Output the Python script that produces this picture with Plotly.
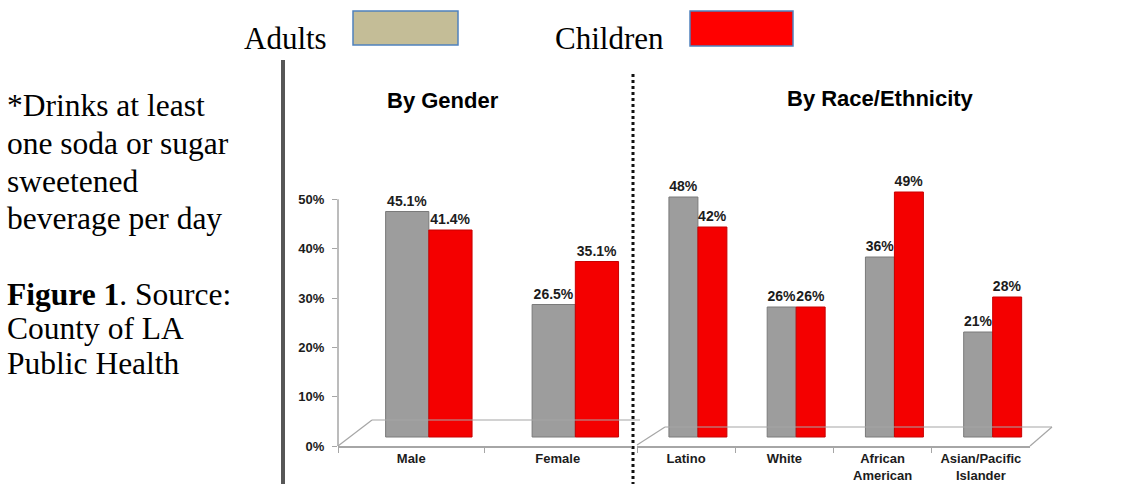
import plotly.graph_objects as go

W, H = 1146, 484

# ---------------- data ----------------
gender_cats = ["Male", "Female"]
gender_adults = [45.1, 26.5]
gender_children = [41.4, 35.1]

race_cats = ["Latino", "White", "African<br>American", "Asian/Pacific<br>Islander"]
race_adults = [48, 26, 36, 21]
race_children = [42, 26, 49, 28]

y_ticks = [0, 10, 20, 30, 40, 50]
y_tick_text = ["0%", "10%", "20%", "30%", "40%", "50%"]

note_lines = ["*Drinks at least", "one soda or sugar", "sweetened", "beverage per day"]
source_lines = ["<b>Figure 1</b>. Source:", "County of LA", "Public Health"]

# ---------------- style ----------------
GRAY = "#9d9d9d"
GRAY_EDGE = "#7a7a7a"
RED = "#f40000"
RED_EDGE = "#c80000"
TAN = "#c4bd97"
AXIS = "#a6a6a6"
TXT = "#1c1c1c"
SANS = "Arial, Liberation Sans, sans-serif"
SERIF = "Times New Roman, Liberation Serif, serif"

M_T, M_B = 150, 38
PLOT_TOP, PLOT_BOT = M_T, H - M_B


def px(x):
    return x / W


def py(y):
    # paper y is relative to the plot area
    return (PLOT_BOT - y) / (PLOT_BOT - PLOT_TOP)


fig = go.Figure()

bar_w = 0.295
off_a = -0.175
off_c = 0.12

def add_bars(cats, vals, color, edge, xa, offset, fmt):
    fig.add_trace(go.Bar(
        x=cats, y=vals, xaxis=xa, yaxis="y2",
        marker=dict(color=color, line=dict(width=1, color=edge)),
        width=bar_w, offset=offset,
        text=[fmt.format(v) for v in vals], textposition="outside",
        textfont=dict(family=SANS, size=14, color=TXT),
        texttemplate="<b>%{text}</b>",
        constraintext="none", cliponaxis=False, showlegend=False,
    ))

add_bars(gender_cats, gender_adults, GRAY, GRAY_EDGE, "x", off_a, "{:.1f}%")
add_bars(gender_cats, gender_children, RED, RED_EDGE, "x", off_c, "{:.1f}%")
add_bars(race_cats, race_adults, GRAY, GRAY_EDGE, "x2", off_a, "{:.0f}%")
add_bars(race_cats, race_children, RED, RED_EDGE, "x2", off_c, "{:.0f}%")

# invisible trace to anchor the visible percent axis
fig.add_trace(go.Scatter(x=gender_cats, y=[None, None], xaxis="x", yaxis="y",
                         mode="markers", showlegend=False, hoverinfo="skip"))

xcommon = dict(
    type="category", showline=True, linecolor=AXIS, linewidth=1.5,
    ticks="outside", tickson="boundaries", ticklen=5, tickcolor=AXIS,
    showgrid=False, zeroline=False,
    tickfont=dict(family=SANS, size=13, color=TXT, weight="bold"),
)

fig.update_layout(
    width=W, height=H,
    margin=dict(l=0, r=0, t=M_T, b=M_B),
    paper_bgcolor="white", plot_bgcolor="white",
    showlegend=False,
    xaxis=dict(domain=[px(338), px(631)], anchor="y",
               categoryorder="array", categoryarray=gender_cats, **xcommon),
    xaxis2=dict(domain=[px(637), px(1030)], anchor="y2",
                categoryorder="array", categoryarray=race_cats, **xcommon),
    yaxis=dict(range=[0, 60], tickvals=y_ticks, ticktext=y_tick_text,
               showline=False, ticks="outside", ticklen=5, tickcolor=AXIS,
               ticklabelstandoff=5,
               showgrid=False, zeroline=False, anchor="x",
               tickfont=dict(family=SANS, size=13, color=TXT, weight="bold")),
    yaxis2=dict(range=[-1.8, 57.4], overlaying="y", anchor="x",
                visible=False, showgrid=False, zeroline=False),
)

shapes = []
def line(x0, y0, x1, y1, color=AXIS, width=1.2, dash="solid"):
    shapes.append(dict(type="line", xref="paper", yref="paper",
                       x0=px(x0), y0=py(y0), x1=px(x1), y1=py(y1),
                       line=dict(color=color, width=width, dash=dash)))

# y axis line (0% to 50%)
shapes.append(dict(type="line", xref="paper", yref="y", x0=px(338), x1=px(338),
                   y0=0, y1=50, line=dict(color=AXIS, width=1.5)))
# 3D floor, left panel
line(338, 446, 372, 420)
line(372, 420, 640, 420)
# 3D floor, right panel
line(637, 445, 665, 427)
line(665, 427, 1052, 427)
line(1030, 446, 1052, 427)
# heavy dark vertical rule
line(283, 60, 283, 484, color="#575757", width=4)
# dotted divider
line(633, 74, 633, 484, color="#111111", width=3, dash="dot")
# legend swatches
for (x0, x1, y0, y1, col) in [(353, 458, 45, 11, TAN), (690, 793, 46, 11, "#ff0000")]:
    shapes.append(dict(type="rect", xref="paper", yref="paper", x0=px(x0), x1=px(x1),
                       y0=py(y0), y1=py(y1), fillcolor=col,
                       line=dict(color="#4f81bd", width=1.5)))
fig.update_layout(shapes=shapes)

ann = []
def text(x, y, s, size, family=SERIF, xanchor="left", bold=False):
    ann.append(dict(xref="paper", yref="paper", x=px(x), y=py(y), text=s,
                    showarrow=False, xanchor=xanchor, yanchor="middle",
                    font=dict(family=family, size=size, color="#000000",
                              weight="bold" if bold else "normal")))

# legend labels
text(285, 38, "Adults", 31, xanchor="center")
text(609, 38, "Children", 31, xanchor="center")
# panel titles
text(443, 100, "By Gender", 22, family=SANS, xanchor="center", bold=True)
text(880, 98, "By Race/Ethnicity", 22, family=SANS, xanchor="center", bold=True)
# left side note
for i, s in enumerate(note_lines):
    text(5, 106 + i * 37.6, s, 31.5)
for i, s in enumerate(source_lines):
    text(5, 294 + i * 34.5, s, 31.5)

fig.update_layout(annotations=ann)

fig.write_html("out.html")
